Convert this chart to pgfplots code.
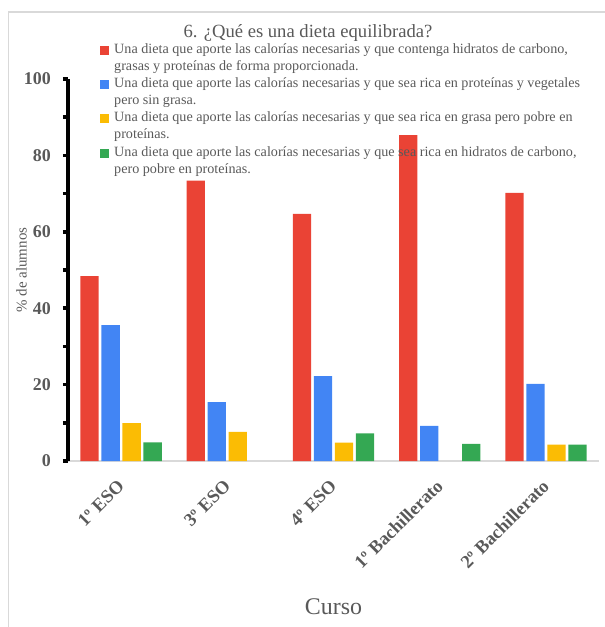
\documentclass[border=0pt]{standalone}
\usepackage{fontspec}
\setmainfont{Liberation Serif}
\usepackage{pgfplots}
\pgfplotsset{compat=1.18}

\definecolor{cRed}{HTML}{EA4335}
\definecolor{cBlue}{HTML}{4285F4}
\definecolor{cYellow}{HTML}{FBBC04}
\definecolor{cGreen}{HTML}{34A853}
\definecolor{txt}{HTML}{595959}
\definecolor{frame}{HTML}{D9D9D9}

% two-line legend entry, baseline on the last line
\newcommand{\entry}[2]{\parbox[b]{480bp}{\strut #1\\#2\strut}}

\begin{document}
\begin{tikzpicture}[x=1bp,y=1bp]
\begin{axis}[
  scale only axis,
  width=531bp, height=382bp,
  xmin=-0.5, xmax=4.5, ymin=0, ymax=100,
  ybar=2.7bp, bar width=18.3bp,
  axis lines*=left,
  x axis line style={draw=frame, line width=2bp},
  y axis line style={draw=black, line width=3.5bp},
  xtick={0,...,4},
  xticklabels={1º ESO, 3º ESO, 4º ESO, 1º Bachillerato, 2º Bachillerato},
  x tick style={draw=none},
  ytick={0,20,...,100},
  minor ytick={10,30,...,90},
  y tick style={draw=black, line width=3.5bp},
  tick align=outside,
  major tick length=5bp, minor tick length=5bp,
  /pgf/number format/assume math mode=true,
  yticklabel style={font=\fontsize{18}{20}\selectfont\bfseries, text=txt, inner sep=0pt, xshift=-12bp},
  xticklabel style={font=\fontsize{18.5}{21}\selectfont\bfseries, text=txt, rotate=45, anchor=east, inner sep=0pt, xshift=-12bp, yshift=-12bp},
  title={6. ¿Qué es una dieta equilibrada?},
  title style={at={(axis description cs:0.452,1.092)}, anchor=base, font=\fontsize{18.7}{22}\selectfont, text=txt},
  ylabel={\% de alumnos},
  ylabel style={at={(axis description cs:-0.0876,0.5)}, anchor=center, font=\fontsize{15}{18}\selectfont, text=txt},
  xlabel={Curso},
  xlabel style={at={(axis description cs:0.5,-0.382)}, anchor=center, font=\fontsize{24}{28}\selectfont, text=txt},
  legend image code/.code={\fill[#1] (0bp,15.5bp) rectangle (9bp,24.5bp);},
  legend style={at={(axis description cs:0.0603,1.104)}, anchor=north west,
    draw=none, fill=none, inner sep=0pt, row sep=0pt, column sep=3bp,
    font=\fontsize{14.2}{17}\selectfont, text=txt,
    cells={anchor=base west}},
]
\addplot[fill=cRed, draw=none] coordinates {(0,48.4) (1,73.4) (2,64.7) (3,85.3) (4,70.2)};
\addlegendentry{\entry{Una dieta que aporte las calorías necesarias y que contenga hidratos de carbono,}{grasas y proteínas de forma proporcionada.}}
\addplot[fill=cBlue, draw=none] coordinates {(0,35.6) (1,15.4) (2,22.2) (3,9.2) (4,20.2)};
\addlegendentry{\entry{Una dieta que aporte las calorías necesarias y que sea rica en proteínas y vegetales}{pero sin grasa.}}
\addplot[fill=cYellow, draw=none] coordinates {(0,9.9) (1,7.6) (2,4.8) (4,4.3)};
\addlegendentry{\entry{Una dieta que aporte las calorías necesarias y que sea rica en grasa pero pobre en}{proteínas.}}
\addplot[fill=cGreen, draw=none] coordinates {(0,4.9) (2,7.2) (3,4.5) (4,4.3)};
\addlegendentry{\entry{Una dieta que aporte las calorías necesarias y que sea rica en hidratos de carbono,}{pero pobre en proteínas.}}
\end{axis}
\draw[frame, line width=1.5bp] (-59.5,-166) -- (-59.5,449) -- (537,449);
\pgfresetboundingbox
\useasboundingbox (-68,-166) rectangle (537,461);
\end{tikzpicture}
\end{document}
